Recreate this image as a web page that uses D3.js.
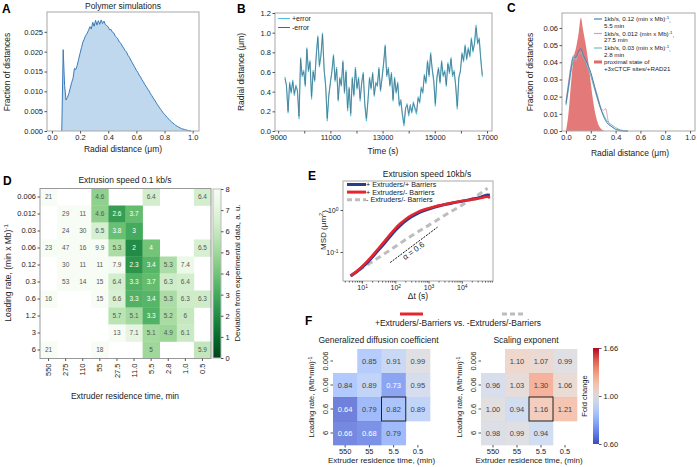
<!DOCTYPE html>
<html><head><meta charset="utf-8">
<script src="https://cdn.jsdelivr.net/npm/d3@7"></script>
<style>
body{margin:0;background:#fff}
svg{font-family:"Liberation Sans",Arial,sans-serif}
</style></head><body>
<svg id="fig" width="697" height="467"></svg>
<script>
// ── 데이터 ─────────────────────────────────────────────
// A: 시뮬레이션 거리 분포 (0.07 부터 0.01 간격)
const fracA = [0, 0.0205, 0.0115, 0.0078, 0.0085, 0.0094, 0.0108, 0.0122, 0.0133, 0.0158, 0.0155, 0.0166, 0.0181, 0.0196, 0.021, 0.0224, 0.0232, 0.0241, 0.0246, 0.0254, 0.0263, 0.0257, 0.0274, 0.0264, 0.0279, 0.0267, 0.0278, 0.0269, 0.028, 0.0271, 0.0277, 0.0268, 0.0266, 0.0262, 0.0255, 0.0256, 0.0249, 0.0247, 0.0239, 0.0236, 0.0231, 0.0224, 0.0221, 0.0214, 0.0209, 0.0203, 0.0199, 0.0191, 0.0186, 0.0179, 0.0173, 0.0166, 0.016, 0.0153, 0.0148, 0.0141, 0.0136, 0.0129, 0.0124, 0.0117, 0.0112, 0.0106, 0.0101, 0.0094, 0.0089, 0.0083, 0.0078, 0.0072, 0.0066, 0.0061, 0.0056, 0.0051, 0.0046, 0.0042, 0.0038, 0.0034, 0.003, 0.0026, 0.0023, 0.002, 0.0017, 0.0014, 0.0012, 0.001, 0.0008, 0.0006, 0.0005, 0.0004, 0.0003, 0.0002, 0.0001, 0.00005, 0];

// B: 시간별 radial distance (9260 s 부터 60 s 간격)
const errPlus = [0.55,0.45,0.18,0.5,0.38,0.52,0.36,0.47,0.4,0.12, 0.75,0.55,0.62,0.45,0.85,0.6,0.72,0.32,0.62,0.5, 0.78,0.97,0.65,0.78,1.0,0.62,0.45,0.1,0.35,0.5, 0.6,0.78,0.5,0.65,0.3,0.55,0.45,0.72,0.38,0.62, 0.2,0.45,0.15,0.55,0.35,0.65,0.42,0.55,0.3,0.5, 0.6,0.25,0.1,0.3,0.55,0.42,0.6,0.35,0.5,0.45, 0.65,0.4,0.55,0.7,0.88,0.55,0.65,0.45,0.6,0.3, 0.55,0.38,0.5,0.25,0.3,0.15,0.05,0.22,0.28,0.15, 0.25,0.18,0.3,0.22,0.17,0.35,0.28,0.45,0.38,0.58, 0.48,0.72,0.55,0.8,0.62,0.5,0.25,0.55,0.65,0.48, 0.72,0.55,0.62,0.45,0.7,0.58,0.75,0.55,0.62,0.45, 0.22,0.55,0.6,0.8,0.7,0.88,0.72,0.85,0.75,0.95, 0.8,0.9,1.08,0.88,0.95,0.72,0.55];
const errMinus = [0.53,0.47,0.2,0.48,0.4,0.5,0.38,0.45,0.42,0.15, 0.73,0.57,0.6,0.47,0.83,0.62,0.7,0.35,0.6,0.52, 0.76,0.95,0.67,0.76,0.98,0.64,0.47,0.13,0.37,0.48, 0.62,0.76,0.52,0.63,0.32,0.53,0.47,0.7,0.4,0.6, 0.23,0.43,0.18,0.53,0.37,0.63,0.44,0.53,0.33,0.48, 0.58,0.28,0.13,0.32,0.53,0.44,0.58,0.37,0.48,0.47, 0.63,0.42,0.53,0.68,0.86,0.57,0.63,0.47,0.58,0.32, 0.53,0.4,0.48,0.27,0.32,0.18,0.08,0.24,0.26,0.18, 0.27,0.2,0.28,0.24,0.2,0.33,0.3,0.43,0.4,0.56, 0.5,0.7,0.57,0.78,0.64,0.52,0.28,0.53,0.63,0.5, 0.7,0.57,0.6,0.47,0.68,0.6,0.73,0.57,0.6,0.47, 0.25,0.53,0.62,0.78,0.72,0.86,0.74,0.83,0.77,0.93, 0.82,0.88,1.05,0.9,0.93,0.74,0.57];

// C: 분포 비교
const distC = [0,0.02,0.04,0.06,0.08,0.10,0.12,0.14,0.16,0.18,0.20,0.22,0.24,0.26,0.28,0.30,0.32,0.34,0.36,0.38,0.40,0.42,0.44,0.46,0.48,0.50];
const proximalC = [0,0.01,0.027,0.042,0.048,0.056,0.066,0.058,0.05,0.04,0.028,0.017,0.009,0.004,0.0015,0.0003,0,0,0,0,0,0,0,0,0,0];
const sim012 = [0.016,0.026,0.036,0.043,0.043,0.046,0.048,0.044,0.041,0.038,0.034,0.029,0.023,0.018,0.013,0.009,0.006,0.004,0.003,0.002,0.001,0.0005,0.0002,0.0001,0,0];
const sim0012 = [0.017,0.028,0.038,0.044,0.041,0.045,0.046,0.043,0.04,0.037,0.033,0.028,0.024,0.019,0.014,0.012,0.013,0.006,0.003,0.002,0.001,0.0005,0.0002,0,0,0];
const sim003 = [0.015,0.024,0.034,0.041,0.043,0.044,0.045,0.043,0.04,0.036,0.032,0.027,0.022,0.017,0.013,0.01,0.007,0.005,0.004,0.003,0.002,0.0012,0.0006,0.0003,0.0001,0];

// D: 편차 히트맵
const rateD = ["0.006","0.012","0.03","0.06","0.12","0.3","0.6","1.2","3","6"];
const timeD = ["550","275","110","55","27.5","11.0","5.5","2.8","1.0","0.5"];
const devD = [
  [21,null,null,4.6,null,null,6.4,null,null,6.4],
  [null,29,11,4.6,2.6,3.7,null,null,null,null],
  [null,24,30,6.5,3.8,3,null,null,null,null],
  [23,47,16,9.9,5.3,2,4,null,null,6.5],
  [null,30,11,11,7.9,2.3,3.4,5.3,7.4,null],
  [null,53,14,15,6.4,3.3,3.7,6.3,6.4,null],
  [16,null,null,15,6.6,3.3,3.4,5.3,6.3,6.3],
  [null,null,null,null,5.7,5.1,3.3,5.2,6,null],
  [null,null,null,null,13,7.1,5.1,4.9,6.1,null],
  [21,null,null,18,null,null,5,null,null,5.9]
];

// E: MSD
const lagE = [4.5,7,10,15,20,30,50,70,100,150,200,300,500,700,1000,1500,2000,3000,5000,7000,10000,15000,20000,30000,40000,50000,60000,70000];
const msdBoth = [0.027,0.034,0.043,0.058,0.074,0.108,0.17,0.235,0.33,0.45,0.55,0.69,0.86,0.96,1.05,1.16,1.24,1.34,1.46,1.54,1.62,1.72,1.8,1.9,2.05,2.2,2.3,2.25];
const msdNoBarrier = [0.027,0.035,0.045,0.062,0.08,0.118,0.19,0.26,0.37,0.5,0.6,0.75,0.92,1.01,1.1,1.2,1.27,1.36,1.47,1.55,1.63,1.72,1.78,1.85,1.95,2.05,2.1,1.95];
const lagNone = [4.5,10,30,100,300,1000,3000,10000,30000,60000];
const msdNone = [0.027,0.041,0.072,0.135,0.24,0.43,0.74,1.3,2.25,3.3];
const alphaLine = [[70,0.056],[1860,0.39]];

// F: fold change
const rateF = ["0.006","0.06","0.6","6"];
const timeF = ["550","55","5.5","0.5"];
const gdcF = [
  [null,0.85,0.91,0.99],
  [0.84,0.89,0.73,0.95],
  [0.64,0.79,0.82,0.89],
  [0.66,0.68,0.79,null]
];
const expF = [
  [null,1.10,1.07,0.99],
  [0.96,1.03,1.30,1.06],
  [1.00,0.94,1.16,1.21],
  [0.98,0.99,0.94,null]
];

// ── 공통 ───────────────────────────────────────────────
const svg = d3.select("#fig");
svg.append("rect").attr("width",697).attr("height",467).attr("fill","#fff");
const defs = svg.append("defs");

function txt(x, y, s, size, o = {}) {
  const t = svg.append("text").attr("x", x).attr("y", y)
    .attr("font-size", size).attr("fill", o.fill || "#222")
    .attr("text-anchor", o.anchor || "middle").text(s);
  if (o.rotate) t.attr("transform", `rotate(${o.rotate},${x},${y})`);
  if (o.weight) t.attr("font-weight", o.weight);
  return t;
}
function sup(t, s) {
  t.append("tspan").attr("dy", "-0.45em").attr("font-size", "0.7em").text(s);
  return t;
}
function frame(x0, y0, x1, y1, c = "#a8a8a8") {
  svg.append("rect").attr("x", x0).attr("y", y0).attr("width", x1 - x0).attr("height", y1 - y0)
    .attr("fill", "none").attr("stroke", c).attr("stroke-width", 1);
}
function axis(ax, tx, ty, fs) {
  const g = svg.append("g").attr("transform", `translate(${tx},${ty})`).call(ax);
  g.select(".domain").remove();
  g.selectAll("line").attr("stroke", "#555");
  g.selectAll("text").attr("font-size", fs).attr("fill", "#222")
    .attr("font-family", '"Liberation Sans",Arial,sans-serif');
  return g;
}

// ── A ──────────────────────────────────────────────────
{
  const x = d3.scaleLinear([-0.035, 1.045], [47, 199]);
  const y = d3.scaleLinear([0, 0.030], [131, 12]);
  const xs = fracA.map((d, i) => 0.07 + i * 0.01);
  svg.append("path").datum(fracA)
    .attr("d", d3.area().x((d, i) => x(xs[i])).y0(y(0)).y1(d => y(d)))
    .attr("fill", "#c0d8ed");
  svg.append("path").datum(fracA)
    .attr("d", d3.line().x((d, i) => x(xs[i])).y(d => y(d)))
    .attr("fill", "none").attr("stroke", "#3b7cbb").attr("stroke-width", 1);
  frame(47, 12, 199, 131);
  axis(d3.axisBottom(x).tickValues([0,0.2,0.4,0.6,0.8,1.0]).tickFormat(d3.format(".1f")).tickSize(2.5).tickPadding(1.5), 0, 131, 7.5);
  axis(d3.axisLeft(y).tickValues([0,0.005,0.01,0.015,0.02,0.025]).tickFormat(d3.format(".3f")).tickSize(2.5).tickPadding(1.5), 47, 0, 7.5);
  txt(123, 8.5, "Polymer simulations", 8.5);
  txt(123, 152, "Radial distance (μm)", 8.5);
  txt(10, 72, "Fraction of distances", 8.5, { rotate: -90 });
  txt(2, 13, "A", 12, { anchor: "start", weight: "bold", fill: "#000" });
}

// ── B ──────────────────────────────────────────────────
{
  const x = d3.scaleLinear([8880, 17190], [275, 492]);
  const y = d3.scaleLinear([0, 1.2], [131, 13]);
  const t = errPlus.map((d, i) => 9260 + i * 60);
  const line = d3.line().x((d, i) => x(t[i])).y(d => y(d));
  svg.append("path").datum(errPlus).attr("d", line)
    .attr("fill", "none").attr("stroke", "#4fc0e0").attr("stroke-width", 1.1);
  svg.append("path").datum(errMinus).attr("d", line)
    .attr("fill", "none").attr("stroke", "#56636e").attr("stroke-width", 0.6);
  frame(275, 13, 492, 131);
  axis(d3.axisBottom(x).tickValues(d3.range(9000, 17001, 1000))
    .tickFormat(d => (d / 1000) % 2 === 1 ? d : "").tickSize(2.5).tickPadding(1.5), 0, 131, 7.5);
  axis(d3.axisLeft(y).tickValues([0,0.2,0.4,0.6,0.8,1.0,1.2]).tickFormat(d3.format(".1f")).tickSize(2.5).tickPadding(1.5), 275, 0, 7.5);
  svg.append("line").attr("x1", 278).attr("x2", 290).attr("y1", 18.5).attr("y2", 18.5).attr("stroke", "#4fc0e0");
  svg.append("line").attr("x1", 278).attr("x2", 290).attr("y1", 27.5).attr("y2", 27.5).attr("stroke", "#56636e");
  txt(292, 21, "+error", 7, { anchor: "start" });
  txt(292, 30, "-error", 7, { anchor: "start" });
  txt(383, 154, "Time (s)", 8.5);
  txt(244, 72, "Radial distance (μm)", 8.5, { rotate: -90 });
  txt(237, 13, "B", 12, { anchor: "start", weight: "bold", fill: "#000" });
}

// ── C ──────────────────────────────────────────────────
{
  const x = d3.scaleLinear([-0.032, 1.04], [562, 695]);
  const y = d3.scaleLinear([0, 0.0687], [131, 13]);
  svg.append("path").datum(proximalC)
    .attr("d", d3.area().x((d, i) => x(distC[i])).y0(y(0)).y1(d => y(d)).curve(d3.curveMonotoneX))
    .attr("fill", "#e06a6a").attr("fill-opacity", 0.9);
  const line = d3.line().x((d, i) => x(distC[i])).y(d => y(d)).curve(d3.curveMonotoneX);
  [[sim0012, "#cfa3bc"], [sim003, "#72bdb8"], [sim012, "#4a80b3"]].forEach(([s, c]) =>
    svg.append("path").datum(s).attr("d", line).attr("fill", "none").attr("stroke", c).attr("stroke-width", 1));
  frame(562, 13, 695, 131);
  axis(d3.axisBottom(x).tickValues([0,0.2,0.4,0.6,0.8,1.0]).tickFormat(d3.format(".1f")).tickSize(2.5).tickPadding(1.5), 0, 131, 7.5);
  axis(d3.axisLeft(y).tickValues([0,0.01,0.02,0.03,0.04,0.05,0.06]).tickFormat(d3.format(".2f")).tickSize(2.5).tickPadding(1.5), 562, 0, 7.5);
  // 범례
  const leg = [["0.12", "5.5 min", "#4a80b3"], ["0.012", "27.5 min", "#cfa3bc"], ["0.03", "2.8 min", "#72bdb8"]];
  leg.forEach((l, i) => {
    const yy = 19 + i * 14.5;
    svg.append("line").attr("x1", 594).attr("x2", 602).attr("y1", yy).attr("y2", yy).attr("stroke", l[2]).attr("stroke-width", 1.2);
    const t = txt(604, yy + 2.2, `1kb/s, ${l[0]} (min x Mb)`, 6.2, { anchor: "start" });
    sup(t, "-1");
    t.append("tspan").attr("dy", "0.45em").text(",");
    txt(604, yy + 8.8, l[1], 6.2, { anchor: "start" });
  });
  svg.append("rect").attr("x", 594).attr("y", 60.5).attr("width", 8).attr("height", 3).attr("fill", "#e06a6a");
  txt(604, 64.2, "proximal state of", 6.2, { anchor: "start" });
  txt(604, 70.8, "+3xCTCF sites/+RAD21", 6.2, { anchor: "start" });
  txt(630, 156, "Radial distance (μm)", 8.5);
  txt(533, 72, "Fraction of distances", 8.5, { rotate: -90 });
  txt(507, 12, "C", 12, { anchor: "start", weight: "bold", fill: "#000" });
}

// ── D ──────────────────────────────────────────────────
{
  const x = d3.scaleBand(timeD, [40, 211]);
  const y = d3.scaleBand(rateD, [188.5, 358.5]);
  const col = v => d3.interpolateGreens(1 - Math.min(v, 8) / 8);
  const cells = [];
  devD.forEach((row, i) => row.forEach((v, j) => { if (v != null) cells.push({ r: rateD[i], c: timeD[j], v }); }));
  svg.append("g").selectAll("rect").data(cells).join("rect")
    .attr("x", d => x(d.c)).attr("y", d => y(d.r))
    .attr("width", x.bandwidth() + 0.3).attr("height", y.bandwidth() + 0.3)
    .attr("fill", d => col(d.v));
  svg.append("g").selectAll("text").data(cells).join("text")
    .attr("x", d => x(d.c) + x.bandwidth() / 2).attr("y", d => y(d.r) + y.bandwidth() / 2 + 2.3)
    .attr("text-anchor", "middle").attr("font-size", 6.5)
    .attr("fill", d => d.v < 4.5 ? "#fff" : "#555").text(d => d.v);
  frame(40, 188.5, 211, 358.5, "#999");
  axis(d3.axisLeft(y).tickSize(2.5).tickPadding(1.5), 40, 0, 7.5);
  const gx = axis(d3.axisBottom(x).tickSize(2.5), 0, 358.5, 7.5);
  gx.selectAll("text").attr("transform", "rotate(-90)").attr("x", -5).attr("y", 0)
    .attr("dy", "0.35em").attr("text-anchor", "end");
  // 컬러바
  const grad = defs.append("linearGradient").attr("id", "gD").attr("x1", 0).attr("y1", 1).attr("x2", 0).attr("y2", 0);
  d3.range(0, 1.001, 0.1).forEach(t => grad.append("stop").attr("offset", t).attr("stop-color", d3.interpolateGreens(1 - t)));
  svg.append("rect").attr("x", 213).attr("y", 189).attr("width", 8).attr("height", 169).attr("fill", "url(#gD)");
  frame(213, 189, 221, 358, "#bbb");
  axis(d3.axisRight(d3.scaleLinear([0, 8], [358, 189])).ticks(8).tickSize(2.5).tickPadding(2), 221, 0, 7.5);
  txt(125, 183, "Extrusion speed 0.1 kb/s", 8.5);
  txt(125, 399, "Extruder residence time, min", 8.5);
  const yl = txt(11, 273, "Loading rate, (min x Mb)", 8.5, { rotate: -90 });
  sup(yl, "-1");
  txt(240, 273, "Deviation from experimental data, a. u.", 8, { rotate: -90 });
  txt(3, 185, "D", 12, { anchor: "start", weight: "bold", fill: "#000" });
}

// ── E ──────────────────────────────────────────────────
{
  const x = d3.scaleLog([2.66, 87000], [343, 493]);
  const y = d3.scaleLog([0.0204, 4.9], [281, 181]);
  const lineD = d3.line().x(d => x(d[0])).y(d => y(d[1])).curve(d3.curveMonotoneX);
  svg.append("path").datum(lagNone.map((d, i) => [d, msdNone[i]])).attr("d", lineD)
    .attr("fill", "none").attr("stroke", "#bdbdbd").attr("stroke-width", 3).attr("stroke-dasharray", "6,4");
  const lineC = d3.line().x(d => x(d[0])).y(d => y(d[1])).curve(d3.curveBasis);
  svg.append("path").datum(lagE.map((d, i) => [d, msdBoth[i]])).attr("d", lineC)
    .attr("fill", "none").attr("stroke", "#2e3a8c").attr("stroke-width", 3);
  svg.append("path").datum(lagE.map((d, i) => [d, msdNoBarrier[i]])).attr("d", lineC)
    .attr("fill", "none").attr("stroke", "#e5262e").attr("stroke-width", 2.6);
  svg.append("path").datum(alphaLine).attr("d", d3.line().x(d => x(d[0])).y(d => y(d[1])))
    .attr("stroke", "#111").attr("stroke-width", 1).attr("stroke-dasharray", "2,1.2");
  frame(343, 181, 493, 281, "#aaa");
  const gx = axis(d3.axisBottom(x).tickValues([10, 100, 1000, 10000]).tickSize(2.5).tickPadding(2), 0, 281, 7);
  gx.selectAll("text").each(function (d) { const t = d3.select(this).text("10"); sup(t, Math.round(Math.log10(d))); });
  const minor = [];
  [1, 10, 100, 1000, 10000].forEach(b => [2,3,4,5,6,7,8,9].forEach(m => { if (b * m > 2.7 && b * m < 87000) minor.push(b * m); }));
  axis(d3.axisBottom(x).tickValues(minor).tickFormat("").tickSize(1.5), 0, 281, 7);
  const gy = axis(d3.axisLeft(y).tickValues([0.1, 1]).tickSize(2.5).tickPadding(2), 343, 0, 7);
  gy.selectAll("text").each(function (d) { const t = d3.select(this).text("10"); sup(t, Math.round(Math.log10(d))); });
  // 범례
  [["#2e3a8c", "+ Extruders/+ Barriers", null], ["#e5262e", "+ Extruders/- Barriers", null], ["#bdbdbd", "- Extruders/- Barriers", "5,3"]]
    .forEach((l, i) => {
      const yy = 184.5 + i * 7.6;
      const ln = svg.append("line").attr("x1", 347).attr("x2", 366).attr("y1", yy).attr("y2", yy)
        .attr("stroke", l[0]).attr("stroke-width", 3);
      if (l[2]) ln.attr("stroke-dasharray", l[2]);
      txt(366, yy + 2.6, l[1], 7.2, { anchor: "start" });
    });
  txt(415, 253, "α = 0.6", 8, { rotate: -36 });
  txt(427, 177, "Extrusion speed 10kb/s", 8.5);
  txt(418, 299, "Δt (s)", 8.5);
  const yl = txt(326, 230, "MSD (μm", 8, { rotate: -90 });
  sup(yl, "2");
  yl.append("tspan").attr("dy", "0.45em").text(")");
  txt(308, 180, "E", 12, { anchor: "start", weight: "bold", fill: "#000" });
}

// ── F ──────────────────────────────────────────────────
{
  const cw = d3.interpolateRgbBasis(["#3b4cc0", "#6282ea", "#8db0fe", "#b8d0f9", "#dddddd", "#f5c4ad", "#f49a7b", "#de604d", "#b40426"]);
  const pos = d3.scaleLinear([0.6, 1, 1.66], [0, 0.5, 1]).clamp(true);
  const col = v => cw(pos(v));
  const y = d3.scaleBand(rateF, [349, 445]);

  function heat(vals, x0, x1, title) {
    const x = d3.scaleBand(timeF, [x0, x1]);
    const cells = [];
    vals.forEach((row, i) => row.forEach((v, j) => { if (v != null) cells.push({ r: rateF[i], c: timeF[j], v }); }));
    svg.append("g").selectAll("rect").data(cells).join("rect")
      .attr("x", d => x(d.c)).attr("y", d => y(d.r))
      .attr("width", x.bandwidth() + 0.3).attr("height", y.bandwidth() + 0.3)
      .attr("fill", d => col(d.v)).attr("fill-opacity", 0.8);
    svg.append("g").selectAll("text").data(cells).join("text")
      .attr("x", d => x(d.c) + x.bandwidth() / 2).attr("y", d => y(d.r) + y.bandwidth() / 2 + 2.8)
      .attr("text-anchor", "middle").attr("font-size", 7.5)
      .attr("fill", d => (d.v < 0.76) ? "#fff" : "#444").text(d => d3.format(".2f")(d.v));
    svg.append("rect").attr("x", x("5.5")).attr("y", y("0.6")).attr("width", x.bandwidth()).attr("height", y.bandwidth())
      .attr("fill", "none").attr("stroke", "#222").attr("stroke-width", 1);
    axis(d3.axisBottom(x).tickSize(2.5).tickPadding(1), 0, 445, 7.5);
    const gy = axis(d3.axisLeft(y).tickSize(2.5), x0, 0, 7.5);
    gy.selectAll("text").attr("transform", "rotate(-90)").attr("x", 0).attr("y", -5)
      .attr("dy", 0).attr("text-anchor", "middle");
    txt((x0 + x1) / 2, 463, "Extruder residence time, (min)", 8);
    const yl = txt(x0 - 19, 397, "Loading rate, (Mb*min)", 7.5, { rotate: -90 });
    sup(yl, "-1");
    txt((x0 + x1) / 2 - 3, 343, title, 8.5);
  }
  heat(gdcF, 333, 430, "Generalized diffusion coefficient");
  heat(expF, 481, 577, "Scaling exponent");

  // 컬러바
  const grad = defs.append("linearGradient").attr("id", "gF").attr("x1", 0).attr("y1", 1).attr("x2", 0).attr("y2", 0);
  d3.range(0, 1.001, 0.05).forEach(t => grad.append("stop").attr("offset", t).attr("stop-color", cw(t)));
  svg.append("rect").attr("x", 593).attr("y", 348).attr("width", 6).attr("height", 96).attr("fill", "url(#gF)");
  axis(d3.axisRight(d3.scaleLinear([0.6, 1, 1.66], [444, 396, 348])).tickValues([0.6, 1, 1.66])
    .tickFormat(d3.format(".2f")).tickSize(2.5).tickPadding(2), 599, 0, 7.5);
  txt(587, 396, "Fold change", 7.5, { rotate: -90 });

  // 상단 범례
  svg.append("line").attr("x1", 400).attr("x2", 423).attr("y1", 314).attr("y2", 314).attr("stroke", "#e5262e").attr("stroke-width", 3);
  svg.append("line").attr("x1", 502).attr("x2", 525).attr("y1", 314).attr("y2", 314).attr("stroke", "#bdbdbd")
    .attr("stroke-width", 3).attr("stroke-dasharray", "5,3");
  txt(458, 326, "+Extruders/-Barriers vs. -Extruders/-Barriers", 8.5);
  txt(305, 325, "F", 12, { anchor: "start", weight: "bold", fill: "#000" });
}
</script>
</body></html>
